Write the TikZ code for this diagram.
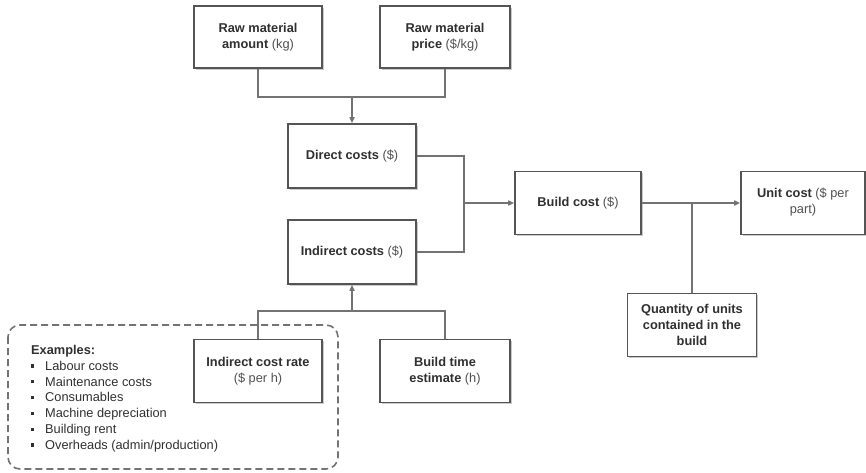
\documentclass[tikz,border=0pt]{standalone}
\usepackage{fontspec}
\setmainfont{Liberation Sans}
\usetikzlibrary{arrows.meta,shadows}
\definecolor{boxline}{HTML}{555555}
\definecolor{wire}{HTML}{737373}
\definecolor{ink}{HTML}{303030}
\definecolor{softink}{HTML}{505050}
\newcommand{\unitpart}[1]{{\mdseries\color{softink}#1}}
\newcommand{\sqbullet}{\makebox[14pt][l]{\rule[2.6pt]{3.2pt}{3.2pt}}}
\begin{document}
\begin{tikzpicture}[x=1pt,y=-1pt,
  font=\fontsize{12.8}{15.8}\selectfont\bfseries,
  costbox/.style={draw=boxline, line width=1.6pt, fill=white, align=center,
    text=ink, inner sep=2pt,
    drop shadow={shadow xshift=1.6pt, shadow yshift=-1.6pt, fill=black!35, opacity=0.6}},
  wireline/.style={draw=wire, line width=1.6pt},
  feed/.style={wireline, -{Triangle[length=6pt,width=5pt]}},
  notebox/.style={draw=wire, line width=1.6pt, dash pattern=on 7pt off 4pt, rounded corners=12pt}]
\useasboundingbox (0,0) rectangle (866,473);

% cost inputs and results
\node[costbox, minimum width=128pt, minimum height=62pt] (amount) at (258,37)
  {Raw material\\amount \unitpart{(kg)}};
\node[costbox, minimum width=130pt, minimum height=62pt] (price) at (445,37)
  {Raw material\\price \unitpart{(\$/kg)}};
\node[costbox, minimum width=128pt, minimum height=64pt] (direct) at (352,156)
  {Direct costs \unitpart{(\$)}};
\node[costbox, minimum width=128pt, minimum height=64pt] (indirect) at (352,252)
  {Indirect costs \unitpart{(\$)}};
\node[costbox, minimum width=126pt, minimum height=63pt] (build) at (578,203)
  {Build cost \unitpart{(\$)}};
\node[costbox, minimum width=124pt, minimum height=63pt, text depth=4pt] (unit) at (803,203)
  {Unit cost \unitpart{(\$ per}\\\unitpart{part)}};
\node[costbox, minimum width=129pt, minimum height=63pt] (qty) at (692,325)
  {Quantity of units\\contained in the\\build};
\node[costbox, minimum width=128pt, minimum height=63pt] (rate) at (258,371)
  {Indirect cost rate\\\unitpart{(\$ per h)}};
\node[costbox, minimum width=130pt, minimum height=63pt] (btime) at (445,371)
  {Build time\\estimate \unitpart{(h)}};

% junction points
\coordinate (rawjoin) at (352,97);
\coordinate (costjoin) at (464,203);
\coordinate (unitjoin) at (692,203);
\coordinate (ratejoin) at (352,311);

% connectors
\draw[wireline] (amount.south) |- (rawjoin) -| (price.south);
\draw[feed] (rawjoin) -- (direct.north);
\draw[wireline] (direct.east) -| (costjoin) |- (indirect.east);
\draw[feed] (costjoin) -- (build.west);
\draw[feed] (build.east) -- (unit.west);
\draw[wireline] (unitjoin) -- (qty.north);
\draw[wireline] (rate.north) |- (ratejoin) -| (btime.north);
\draw[feed] (ratejoin) -- (indirect.south);

% examples of indirect costs
\draw[notebox] (8,325) rectangle (338,469);
\node[anchor=north west, align=left, text=ink, inner sep=0pt] (examples) at (31,345)
  {Examples:\\
  \mdseries\sqbullet Labour costs\\
  \mdseries\sqbullet Maintenance costs\\
  \mdseries\sqbullet Consumables\\
  \mdseries\sqbullet Machine depreciation\\
  \mdseries\sqbullet Building rent\\
  \mdseries\sqbullet Overheads (admin/production)};
\end{tikzpicture}
\end{document}
